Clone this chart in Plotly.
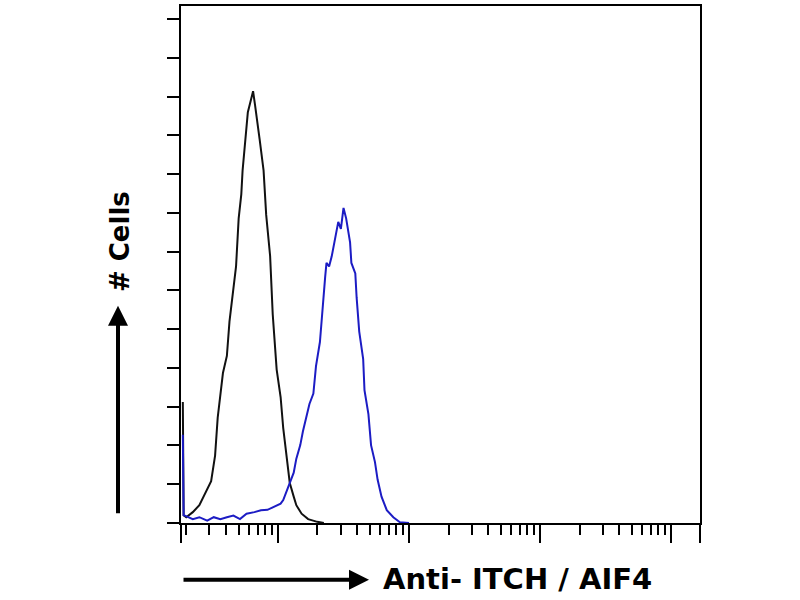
import numpy as np
import plotly.graph_objects as go

# histogram outlines, x in decades (log10 of intensity), y in cell counts
black_log10 = [0.274, 0.28, 0.30, 0.35, 0.40, 0.46, 0.49, 0.52, 0.54, 0.58, 0.61, 0.63, 0.66,
               0.68, 0.70, 0.72, 0.73, 0.75, 0.77, 0.79, 0.81, 0.825, 0.84, 0.86, 0.89, 0.91,
               0.94, 0.96, 0.99, 1.02, 1.04, 1.07, 1.09, 1.12, 1.14, 1.18, 1.23, 1.30, 1.35]
black_counts = [3.12, 0.20, 0.15, 0.28, 0.46, 0.86, 1.08, 1.74, 2.72, 3.87, 4.31, 5.20, 6.00,
                6.62, 7.86, 8.48, 9.10, 9.81, 10.60, 10.87, 11.14, 10.78, 10.34, 9.90, 9.10, 7.95,
                6.89, 5.38, 3.96, 3.25, 2.45, 1.66, 1.03, 0.68, 0.46, 0.24, 0.10, 0.03, 0.0]

blue_log10 = [0.274, 0.28, 0.29, 0.35, 0.40, 0.46, 0.51, 0.56, 0.61, 0.66, 0.71, 0.76, 0.82,
              0.87, 0.92, 0.97, 1.02, 1.04, 1.07, 1.09, 1.12, 1.14, 1.17, 1.19, 1.22, 1.24,
              1.27, 1.29, 1.32, 1.34, 1.36, 1.37, 1.39, 1.41, 1.42, 1.44, 1.46, 1.48, 1.50,
              1.52, 1.55, 1.56, 1.59, 1.60, 1.62, 1.65, 1.66, 1.69, 1.71, 1.74, 1.76, 1.79,
              1.83, 1.88, 1.93, 2.00]
blue_counts = [2.28, 0.20, 0.19, 0.10, 0.15, 0.06, 0.15, 0.10, 0.15, 0.19, 0.10, 0.24, 0.28,
               0.33, 0.34, 0.41, 0.50, 0.59, 0.86, 1.03, 1.30, 1.66, 2.01, 2.36, 2.81, 3.07,
               3.34, 4.05, 4.67, 5.65, 6.35, 6.71, 6.62, 6.88, 7.06, 7.42, 7.77, 7.59, 8.13,
               7.86, 7.24, 6.71, 6.44, 5.82, 4.94, 4.23, 3.43, 2.81, 2.01, 1.57, 1.12, 0.68,
               0.33, 0.15, 0.02, 0.0]

x_range_log10 = [0.26, 4.22]
y_max = 13.34
major_ticks = [10 ** 0.26, 10, 100, 1000, 10000, 10 ** 4.22]
minor_ticks = [k * 10 ** d for d in range(4) for k in range(2, 10)]

x_title = "Anti- ITCH / AIF4"
y_title = "# Cells"

# plot area in pixels: x 181..700, y 4..523
W, H = 800, 600
L, R, T, B = 181, 100, 4, 77
pw, ph = W - L - R, H - T - B


def px_x(x):
    return (x - L) / pw


def px_y(y):
    return (H - B - y) / ph


fig = go.Figure()
fig.add_trace(go.Scatter(x=np.power(10.0, black_log10), y=black_counts, mode="lines",
                         line=dict(color="#111111", width=2), showlegend=False))
fig.add_trace(go.Scatter(x=np.power(10.0, blue_log10), y=blue_counts, mode="lines",
                         line=dict(color="#1c1cc4", width=2), showlegend=False))

fig.update_layout(
    width=W, height=H,
    margin=dict(l=L, r=R, t=T, b=B),
    paper_bgcolor="white", plot_bgcolor="white",
    font=dict(family="DejaVu Sans", color="black"),
)
fig.update_xaxes(
    type="log", range=x_range_log10, showgrid=False, zeroline=False,
    showline=True, linecolor="black", linewidth=2, mirror=True,
    tickmode="array", tickvals=major_ticks, ticks="outside", ticklen=18, tickwidth=2,
    tickcolor="black", showticklabels=False,
    minor=dict(tickmode="array", tickvals=minor_ticks, ticks="outside", ticklen=10,
               tickwidth=2, tickcolor="black", showgrid=False),
)
fig.update_yaxes(
    range=[0, y_max], showgrid=False, zeroline=False,
    showline=True, linecolor="black", linewidth=2, mirror=True,
    tickmode="linear", tick0=0, dtick=1, ticks="outside", ticklen=12, tickwidth=2,
    tickcolor="black", showticklabels=False,
)

# axis labels with arrows
fig.add_annotation(text=y_title, xref="paper", yref="paper", x=px_x(120), y=px_y(241),
                   textangle=-90, showarrow=False, xanchor="center", yanchor="middle",
                   font=dict(size=26, weight="bold", color="black"))
fig.add_annotation(text=x_title, xref="paper", yref="paper", x=px_x(517), y=px_y(579),
                   showarrow=False, xanchor="center", yanchor="middle",
                   font=dict(size=29, weight="bold", color="black"))
fig.add_annotation(text="", xref="paper", yref="paper", x=px_x(118), y=px_y(305),
                   ax=0, ay=209, showarrow=True, arrowhead=2, arrowsize=1, arrowwidth=4,
                   arrowcolor="black", standoff=0, startstandoff=0)
fig.add_annotation(text="", xref="paper", yref="paper", x=px_x(369), y=px_y(580),
                   ax=-187, ay=0, showarrow=True, arrowhead=2, arrowsize=1, arrowwidth=4,
                   arrowcolor="black", standoff=0, startstandoff=0)

# the page's default body margin would shift the 800x600 figure
fig.write_html("out.html", config={"displayModeBar": False},
               post_script="document.body.style.margin='0';")
